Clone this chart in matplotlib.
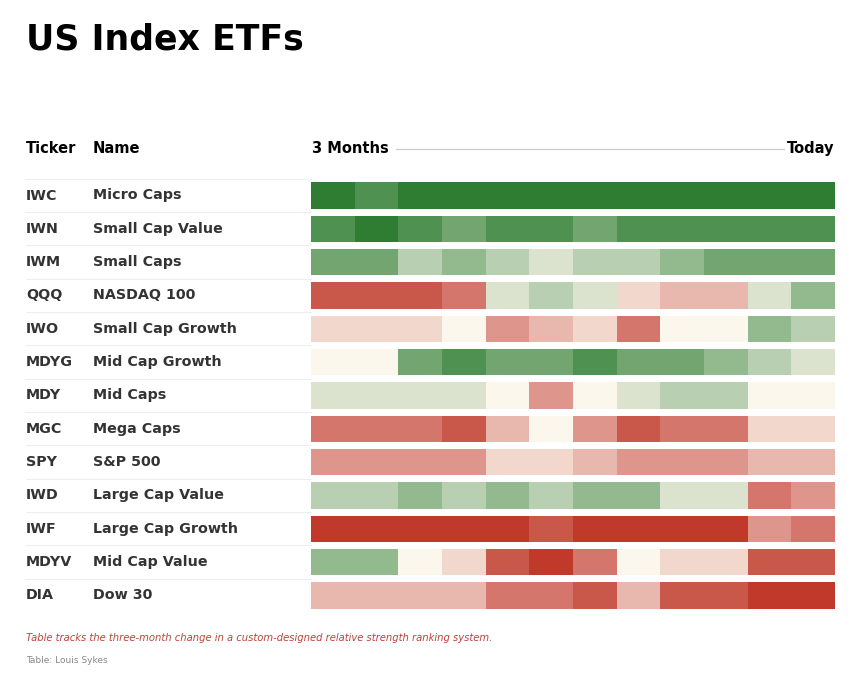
import numpy as np
import matplotlib
matplotlib.use("Agg")
import matplotlib.pyplot as plt
from matplotlib.colors import ListedColormap, BoundaryNorm

tickers = ["IWC", "IWN", "IWM", "QQQ", "IWO", "MDYG", "MDY", "MGC", "SPY",
           "IWD", "IWF", "MDYV", "DIA"]
names = ["Micro Caps", "Small Cap Value", "Small Caps", "NASDAQ 100",
         "Small Cap Growth", "Mid Cap Growth", "Mid Caps", "Mega Caps",
         "S&P 500", "Large Cap Value", "Large Cap Growth", "Mid Cap Value",
         "Dow 30"]

# relative strength level per period (-6 strong red .. +6 strong green)
iwc = [6, 5, 6, 6, 6, 6, 6, 6, 6, 6, 6, 6]
iwn = [5, 6, 5, 4, 5, 5, 4, 5, 5, 5, 5, 5]
iwm = [4, 4, 2, 3, 2, 1, 2, 2, 3, 4, 4, 4]
qqq = [-5, -5, -5, -4, 1, 2, 1, -1, -2, -2, 1, 3]
iwo = [-1, -1, -1, 0, -3, -2, -1, -4, 0, 0, 3, 2]
mdyg = [0, 0, 4, 5, 4, 4, 5, 4, 4, 3, 2, 1]
mdy = [1, 1, 1, 1, 0, -3, 0, 1, 2, 2, 0, 0]
mgc = [-4, -4, -4, -5, -2, 0, -3, -5, -4, -4, -1, -1]
spy = [-3, -3, -3, -3, -1, -1, -2, -3, -3, -3, -2, -2]
iwd = [2, 2, 3, 2, 3, 2, 3, 3, 1, 1, -4, -3]
iwf = [-6, -6, -6, -6, -6, -5, -6, -6, -6, -6, -3, -4]
mdyv = [3, 3, 0, -1, -5, -6, -4, 0, -1, -1, -5, -5]
dia = [-2, -2, -2, -2, -4, -4, -5, -2, -5, -5, -6, -6]

values = np.array([iwc, iwn, iwm, qqq, iwo, mdyg, mdy, mgc, spy, iwd, iwf, mdyv, dia])

palette = ["#c0392b", "#c9574a", "#d4766b", "#de958b", "#e8b8ae", "#f2d7cd",
           "#fbf7ec",
           "#dbe3cf", "#b8d0b1", "#93b98e", "#72a56f", "#4f9150", "#2e7d32"]
cmap = ListedColormap(palette)
norm = BoundaryNorm(np.arange(-6.5, 7.5, 1), cmap.N)

W, H = 860, 674
fig = plt.figure(figsize=(W / 100, H / 100), dpi=100)
fig.patch.set_facecolor("white")

def fx(px):
    return px / W

def fy(py):
    return 1 - py / H

n_rows, n_cols = values.shape
row_h = 33.33
top = 195.5 - row_h / 2
bottom = top + row_h * n_rows
left_px, right_px = 311, 835

ax = fig.add_axes([fx(left_px), fy(bottom), fx(right_px - left_px), (bottom - top) / H])
ax.set_xlim(0, n_cols)
ax.set_ylim(n_rows - 0.5, -0.5)
ax.axis("off")

for i in range(n_rows):
    cols = cmap(norm(values[i]))
    ax.barh([i] * n_cols, [1] * n_cols, left=np.arange(n_cols), height=0.79,
            color=cols, linewidth=0, antialiased=False, align="center")

trans = matplotlib.transforms.blended_transform_factory(fig.transFigure, ax.transData)
for i in range(n_rows):
    ax.text(fx(26), i, tickers[i], transform=trans, ha="left", va="center",
            fontsize=10.3, fontweight="bold", color="#333333")
    ax.text(fx(93), i, names[i], transform=trans, ha="left", va="center",
            fontsize=10.3, fontweight="bold", color="#333333")
# separators
for i in range(n_rows):
    y = i - 0.5
    ax.plot([fx(26), fx(311)], [y, y], transform=trans, color="#eeeeee",
            linewidth=0.8, clip_on=False)

fig.text(fx(26), fy(49.5), "US Index ETFs", fontsize=25, fontweight="bold",
         color="#000000", ha="left", va="baseline")

hy = fy(153)
fig.text(fx(26), hy, "Ticker", fontsize=10.5, fontweight="bold", ha="left", va="baseline")
fig.text(fx(93), hy, "Name", fontsize=10.5, fontweight="bold", ha="left", va="baseline")
fig.text(fx(312), hy, "3 Months", fontsize=10.5, fontweight="bold", ha="left", va="baseline")
fig.text(fx(834), hy, "Today", fontsize=10.5, fontweight="bold", ha="right", va="baseline")
fig.add_artist(plt.Line2D([fx(396), fx(784)], [fy(149), fy(149)], color="#cccccc",
                          linewidth=0.9, transform=fig.transFigure))

fig.text(fx(26), fy(641), "Table tracks the three-month change in a custom-designed "
         "relative strength ranking system.", fontsize=7.2, style="italic",
         color="#bf4238", ha="left", va="baseline")
fig.text(fx(26), fy(663), "Table: Louis Sykes", fontsize=6.5, color="#888888",
         ha="left", va="baseline")

fig.savefig("out.png", dpi=100, facecolor="white")
